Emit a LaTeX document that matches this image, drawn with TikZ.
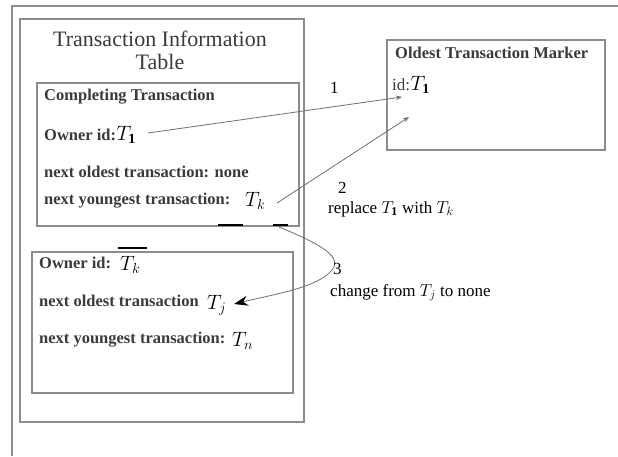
\documentclass[tikz,border=0pt]{standalone}
\usepackage{fontspec}
\setmainfont{Liberation Serif}
\usetikzlibrary{arrows.meta}
\definecolor{boxgray}{HTML}{8C8C8C}
\definecolor{txtgray}{HTML}{3A3A3A}
\definecolor{arrgray}{HTML}{6E6E6E}
\tikzset{
  box/.style={draw=boxgray, line width=1.3pt},
  lbl/.style={anchor=base west, inner sep=0pt, text=txtgray, font=\fontsize{16.5}{19}\selectfont\bfseries},
  plain/.style={anchor=base west, inner sep=0pt, text=black, font=\fontsize{17}{20}\selectfont},
  mth/.style={anchor=base west, inner sep=0pt, text=black, font=\fontsize{20}{24}\selectfont},
  conn/.style={draw=arrgray, line width=0.8pt, -{Stealth[length=6pt,width=4.5pt]}},
  bar/.style={line width=1.8pt, black}
}
\begin{document}
\begin{tikzpicture}[x=1pt,y=-1pt]
\useasboundingbox (0,0) rectangle (618,456);
% outer frame
\draw[box] (12,456) -- (12,6) -- (618,6);
% Transaction Information Table
\draw[box] (20,19) rectangle (304,422);
\node[text=txtgray, font=\fontsize{22}{23}\selectfont, anchor=base] (title1) at (160,46) {Transaction Information};
\node[text=txtgray, font=\fontsize{22}{23}\selectfont, anchor=base] (title2) at (160,69) {Table};
% Completing transaction
\draw[box] (37,83) rectangle (299,226);
\node[lbl] (ct) at (44,100) {Completing Transaction};
\node[lbl] (own) at (44,140) {Owner id:};
\node[mth] (t1) at (own.base east) {$T_{\mathbf{1}}$};
\node[lbl] (nold) at (44,177) {next oldest transaction: none};
\node[lbl] (nyo) at (44,204) {next youngest transaction:};
\node[mth] (tk) at (245,206) {$T_k$};
\coordinate (ua) at (218,225);
\coordinate (ub) at (243,225);
\coordinate (uc) at (273,225);
\coordinate (ud) at (288,225);
\draw[bar] (ua) -- (ub);
\draw[bar] (uc) -- (ud);
% Second box
\draw[box] (32,252) rectangle (293,393);
\node[lbl] (own2) at (39,268) {Owner id:};
\node[mth] (tk2) at (120,270) {$T_k$};
\coordinate (oa) at (118,248);
\coordinate (ob) at (147,248);
\draw[bar] (oa) -- (ob);
\node[lbl] (nold2) at (39,306) {next oldest transaction};
\node[mth] (tj) at (207,309) {$T_j$};
\node[lbl] (nyo2) at (39,343) {next youngest transaction:};
\node[mth] (tn) at (232,346) {$T_n$};
% Oldest Transaction Marker
\draw[box] (387,40) rectangle (605,150);
\node[lbl] (otm) at (395,58) {Oldest Transaction Marker};
\node[plain, text=txtgray] (idl) at (392,90) {id:};
\node[mth] (idt) at (idl.base east) {$T_{\mathbf{1}}$};
\coordinate (m1) at (402,97);
\coordinate (m2) at (409,117);
% arrows
\coordinate (s1) at (148,133);
\draw[conn] (s1) -- (m1);
\node[plain] (l1) at (330,93) {1};
\coordinate (s2) at (277,203);
\draw[conn] (s2) -- (m2);
\node[plain] (l2) at (338,193) {2};
\node[plain] (rep) at (328,213) {replace $T_{\mathbf{1}}$ with $T_k$};
\coordinate (s3) at (279,227);
\coordinate (e3) at (234,304);
\draw[draw=arrgray, line width=0.8pt, -{Stealth[length=14pt,width=10pt,fill=black,color=black]}] (s3) .. controls (310,240) and (345,255) .. (332,270) .. controls (318,287) and (280,293) .. (e3);
\node[plain] (l3) at (333,274) {3};
\node[plain] (chg) at (330,296) {change from $T_j$ to none};
\end{tikzpicture}
\end{document}
